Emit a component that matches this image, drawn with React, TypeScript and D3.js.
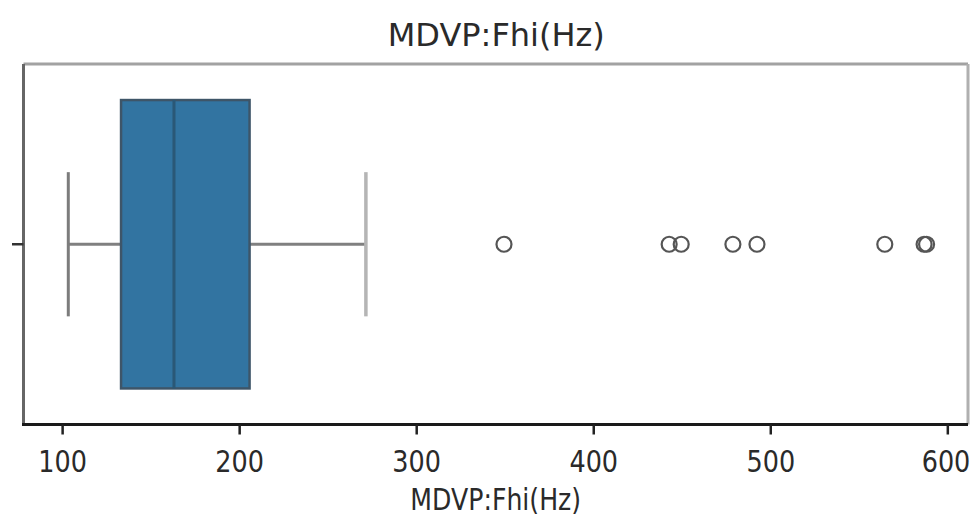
import React, { useEffect, useRef } from "react";
import * as d3 from "d3";

// Summary statistics for MDVP:Fhi(Hz)
const boxStats = { min: 103.2, q1: 133.0, median: 162.9, q3: 205.6, max: 271.3 };
const outliers = [349.3, 442.6, 449.4, 478.6, 492.2, 564.4, 586.6, 588.0];
const xTicks = [100, 200, 300, 400, 500, 600];
const xDomain = [77.9, 611.4];
const title = "MDVP:Fhi(Hz)";
const xLabel = "MDVP:Fhi(Hz)";

const W = 972;
const H = 517;
const plot = { left: 23.5, right: 968, top: 64, bottom: 424.5 };

export default function App() {
  const ref = useRef<SVGSVGElement | null>(null);

  useEffect(() => {
    const svg = d3.select(ref.current);
    svg.selectAll("*").remove();

    const x = d3.scaleLinear().domain(xDomain).range([plot.left, plot.right]);
    const y = d3.scaleLinear().domain([-0.5, 0.5]).range([plot.top, plot.bottom]);
    const cy = y(0);
    const font = "DejaVu Sans, sans-serif";

    // whiskers
    const wColor = "#808080";
    svg.append("line").attr("x1", x(boxStats.min)).attr("x2", x(boxStats.q1))
      .attr("y1", cy).attr("y2", cy).attr("stroke", wColor).attr("stroke-width", 3);
    svg.append("line").attr("x1", x(boxStats.q3)).attr("x2", x(boxStats.max))
      .attr("y1", cy).attr("y2", cy).attr("stroke", wColor).attr("stroke-width", 3);
    svg.append("line").attr("x1", x(boxStats.min)).attr("x2", x(boxStats.min))
      .attr("y1", y(-0.2)).attr("y2", y(0.2)).attr("stroke", "#7c7c7c").attr("stroke-width", 3);
    svg.append("line").attr("x1", x(boxStats.max)).attr("x2", x(boxStats.max))
      .attr("y1", y(-0.2)).attr("y2", y(0.2)).attr("stroke", "#b5b5b5").attr("stroke-width", 3.5);

    // box
    svg.append("rect")
      .attr("x", x(boxStats.q1)).attr("y", y(-0.4))
      .attr("width", x(boxStats.q3) - x(boxStats.q1))
      .attr("height", y(0.4) - y(-0.4))
      .attr("fill", "#3274a1").attr("stroke", "#3e5568").attr("stroke-width", 2.5);
    svg.append("line").attr("x1", x(boxStats.median)).attr("x2", x(boxStats.median))
      .attr("y1", y(-0.4)).attr("y2", y(0.4)).attr("stroke", "#2a5877").attr("stroke-width", 3);

    // outliers
    svg.selectAll("circle.out").data(outliers).enter().append("circle")
      .attr("class", "out")
      .attr("cx", (d) => x(d)).attr("cy", cy).attr("r", 7.5)
      .attr("fill", "none").attr("stroke", "#555").attr("stroke-width", 2.2);

    // spines
    svg.append("line").attr("x1", plot.left).attr("x2", plot.right)
      .attr("y1", plot.top).attr("y2", plot.top).attr("stroke", "#a2a2a2").attr("stroke-width", 3);
    svg.append("line").attr("x1", plot.right).attr("x2", plot.right)
      .attr("y1", plot.top).attr("y2", plot.bottom).attr("stroke", "#b0b0b0").attr("stroke-width", 3);
    svg.append("line").attr("x1", plot.left).attr("x2", plot.left)
      .attr("y1", plot.top).attr("y2", plot.bottom).attr("stroke", "#666").attr("stroke-width", 3);
    svg.append("line").attr("x1", plot.left - 1.5).attr("x2", plot.right)
      .attr("y1", plot.bottom).attr("y2", plot.bottom).attr("stroke", "#1a1a1a").attr("stroke-width", 3);

    // y tick
    svg.append("line").attr("x1", 12).attr("x2", plot.left)
      .attr("y1", cy).attr("y2", cy).attr("stroke", "#333").attr("stroke-width", 2.5);

    // x ticks
    const g = svg.append("g");
    xTicks.forEach((t) => {
      g.append("line").attr("x1", x(t)).attr("x2", x(t))
        .attr("y1", plot.bottom).attr("y2", plot.bottom + 10)
        .attr("stroke", "#222").attr("stroke-width", 2.5);
      g.append("text")
        .attr("transform", `translate(${Math.min(x(t), 946)},472) scale(0.85,1)`)
        .attr("text-anchor", "middle")
        .attr("font-family", font).attr("font-size", 30)
        .attr("fill", "#2a2a2a")
        .text(String(t));
    });

    // labels
    svg.append("text")
      .attr("transform", `translate(${(plot.left + plot.right) / 2},510) scale(0.84,1)`)
      .attr("text-anchor", "middle")
      .attr("font-family", font).attr("font-size", 30)
      .attr("fill", "#2a2a2a")
      .text(xLabel);
    svg.append("text")
      .attr("x", (plot.left + plot.right) / 2 + 0.5).attr("y", 46)
      .attr("text-anchor", "middle")
      .attr("font-family", font).attr("font-size", 32)
      .attr("fill", "#2a2a2a")
      .text(title);
  }, []);

  return (
    <svg
      ref={ref}
      width={W}
      height={H}
      style={{ position: "absolute", left: 0, top: 0, background: "#fff" }}
    />
  );
}
